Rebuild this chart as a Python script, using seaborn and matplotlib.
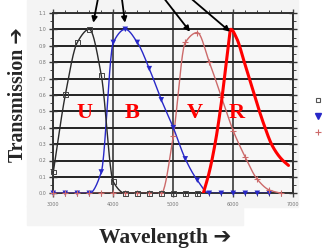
import numpy as np
import pandas as pd
import matplotlib
matplotlib.use("Agg")
import matplotlib.pyplot as plt
import seaborn as sns
from matplotlib.lines import Line2D
from matplotlib.patches import Rectangle

# ---------------- data ----------------
u_wl = [3000, 3200, 3400, 3600, 3800, 4000, 4200, 4400, 4600, 4800, 5000, 5200, 5400]
u_val = [0.13, 0.60, 0.92, 1.00, 0.72, 0.07, 0.0, 0.0, 0.0, 0.0, 0.0, 0.0, 0.0]

b_wl = [3000, 3200, 3400, 3600, 3800, 4000, 4200, 4400, 4600, 4800, 5000, 5200,
        5400, 5600, 5800, 6000, 6200, 6400, 6600]
b_val = [0.0, 0.0, 0.0, 0.0, 0.13, 0.92, 1.00, 0.92, 0.76, 0.57, 0.40, 0.21,
         0.08, 0.0, 0.0, 0.0, 0.0, 0.0, 0.0]

v_wl = [3000, 3200, 3400, 3600, 3800, 4000, 4200, 4400, 4600, 4800, 5000, 5200,
        5400, 5600, 5800, 6000, 6200, 6400, 6600, 6800]
v_val = [0.0, 0.0, 0.0, 0.0, 0.0, 0.0, 0.0, 0.0, 0.0, 0.0, 0.35, 0.92,
         0.98, 0.80, 0.59, 0.38, 0.22, 0.085, 0.02, 0.0]

r_wl = [5500, 5600, 5700, 5800, 5900, 5960, 6050, 6200, 6350, 6500, 6650, 6800, 6920]
r_val = [0.0, 0.13, 0.31, 0.55, 0.85, 1.00, 0.95, 0.78, 0.60, 0.43, 0.29, 0.21, 0.17]

band_names = ["U", "B", "V", "R"]
x_ticks = [3000, 4000, 5000, 6000, 7000]
y_ticks = [0.0, 0.1, 0.2, 0.3, 0.4, 0.5, 0.6, 0.7, 0.8, 0.9, 1.0, 1.1]


def smooth(x, y, n=400):
    """Monotone (PCHIP) curve through the read points, for drawing the line."""
    x = np.asarray(x, float)
    y = np.asarray(y, float)
    h = np.diff(x)
    d = np.diff(y) / h
    m = np.zeros_like(y)
    for k in range(1, len(x) - 1):
        if d[k - 1] * d[k] > 0:
            w1 = 2 * h[k] + h[k - 1]
            w2 = h[k] + 2 * h[k - 1]
            m[k] = (w1 + w2) / (w1 / d[k - 1] + w2 / d[k])
    m[0] = d[0]
    m[-1] = d[-1]
    xs = np.linspace(x[0], x[-1], n)
    idx = np.clip(np.searchsorted(x, xs) - 1, 0, len(h) - 1)
    t = (xs - x[idx]) / h[idx]
    h00 = 2 * t**3 - 3 * t**2 + 1
    h10 = t**3 - 2 * t**2 + t
    h01 = -2 * t**3 + 3 * t**2
    h11 = t**3 - t**2
    ys = h00 * y[idx] + h10 * h[idx] * m[idx] + h01 * y[idx + 1] + h11 * h[idx] * m[idx + 1]
    return pd.DataFrame({"wl": xs, "T": ys})


sns.set_style("white")
plt.rcParams["font.family"] = ["DejaVu Sans"]

W, H = 326, 250
fig = plt.figure(figsize=(W / 100, H / 100), dpi=100)
fig.patch.set_facecolor("white")
# faint grey backdrop of the original screenshot
fig.patches.append(Rectangle((27 / W, 1 - 207 / H), (298 - 27) / W, 207 / H,
                             transform=fig.transFigure, color="#f4f4f4", zorder=-5))
fig.patches.append(Rectangle((27 / W, 1 - 225 / H), (243 - 27) / W, 20 / H,
                             transform=fig.transFigure, color="#f4f4f4", zorder=-5))

ax = fig.add_axes([53.3 / W, 1 - 193.3 / H, 240 / W, (193.3 - 12.9) / H])
ax.set_facecolor("#f7f7f7")

col_u, col_b, col_v, col_r = "#2a2a2a", "#2828c8", "#cc6a6a", "#ff0000"

# lines
sns.lineplot(data=smooth(b_wl, b_val), x="wl", y="T", color=col_b, lw=1.0, ax=ax, zorder=4)
sns.lineplot(data=smooth(v_wl, v_val), x="wl", y="T", color=col_v, lw=1.0, ax=ax, zorder=3)
sns.lineplot(data=smooth(u_wl, u_val), x="wl", y="T", color=col_u, lw=1.0, ax=ax, zorder=5)
sns.lineplot(data=smooth(r_wl, r_val), x="wl", y="T", color=col_r, lw=2.2, ax=ax, zorder=7)

# markers
sns.scatterplot(x=b_wl, y=b_val, marker="v", s=16, color=col_b, edgecolor="none",
                ax=ax, zorder=6, clip_on=False)
sns.scatterplot(x=v_wl, y=v_val, marker="+", s=18, color=col_v, linewidth=0.8,
                ax=ax, zorder=6, clip_on=False)
sns.scatterplot(x=u_wl, y=u_val, marker="s", s=12, facecolors="none", edgecolor="#444444",
                linewidth=0.7, ax=ax, zorder=6, clip_on=False)

ax.set_xlim(3000, 7000)
ax.set_ylim(0, 1.1)
ax.set_xticks(x_ticks)
ax.set_xticklabels([str(v) for v in x_ticks])
ax.set_yticks(y_ticks)
ax.set_yticklabels([f"{v:.1f}" for v in y_ticks])
ax.set_xticks(np.arange(3000, 7001, 200), minor=True)
ax.set_yticks(np.arange(0, 1.101, 0.05), minor=True)
ax.grid(axis="y", which="major", color="#222222", lw=1.4, zorder=1)
ax.grid(axis="x", which="major", color="#555555", lw=1.4, zorder=1)
ax.set_axisbelow(True)
for s in ax.spines.values():
    s.set_visible(True)
    s.set_color("#333333")
    s.set_linewidth(1.4)

ax.tick_params(axis="y", which="major", direction="inout", length=6, width=1.0,
               left=True, right=True, color="#333333", pad=2.2,
               labelsize=3.5, labelcolor="#777777")
ax.tick_params(axis="y", which="minor", direction="out", length=2.5, width=0.7,
               left=True, right=True, color="#444444")
ax.tick_params(axis="x", which="major", direction="out", length=3, width=1.0,
               bottom=True, top=True, color="#444444", pad=3.6,
               labelsize=3.5, labelcolor="#777777")
ax.tick_params(axis="x", which="minor", direction="out", length=2, width=0.7,
               bottom=True, top=True, color="#444444")
ax.set_xlabel("")
ax.set_ylabel("")

# band letters
band_x = [3512, 4320, 5362, 6058]
for name, bx in zip(band_names, band_x):
    ax.text(bx, 0.46, name, color="#ff0000", fontsize=16, fontweight="bold",
            family=["Liberation Serif", "DejaVu Serif"], ha="center", va="baseline", zorder=8)

# arrows from above pointing at the peaks
arrows = [((98.3, -3), (93.3, 22.7)), ((121.7, -3), (125.0, 22.7)),
          ((163.0, -3), (190.0, 31.7)), ((189.3, -3), (230.0, 31.7))]
for (x0, y0), (x1, y1) in arrows:
    ax.annotate("", xy=(x1 / W, 1 - y1 / H), xycoords="figure fraction",
                xytext=(x0 / W, 1 - y0 / H), textcoords="figure fraction",
                arrowprops=dict(arrowstyle="-|>", color="black", lw=1.3,
                                mutation_scale=8, shrinkA=0, shrinkB=0),
                annotation_clip=False, zorder=9)

# legend: only the markers are visible in the reference
handles = [
    Line2D([], [], ls="none", marker="s", ms=3.5, mfc="none", mec="#555555", mew=0.8),
    Line2D([], [], ls="none", marker="v", ms=4, mfc=col_b, mec=col_b),
    Line2D([], [], ls="none", marker="+", ms=4.5, mec=col_v, mew=0.8),
]
fig.legend(handles, ["", "", ""], loc="center left",
           bbox_to_anchor=(313.8 / W, 1 - 116 / H), frameon=False, fontsize=6,
           handlelength=1, handletextpad=0.0, labelspacing=0.85, borderpad=0,
           borderaxespad=0)

# axis titles
fig.text(18.5 / W, 1 - 95 / H, "Transmission \u2794", rotation=90, ha="center", va="center",
         fontsize=14.3, fontweight="bold", family=["Liberation Serif", "DejaVu Sans"])
fig.text(165 / W, 1 - 243 / H, "Wavelength \u2794", ha="center", va="baseline",
         fontsize=15.5, fontweight="bold", family=["Liberation Serif", "DejaVu Sans"])

fig.savefig("out.png", dpi=100)
